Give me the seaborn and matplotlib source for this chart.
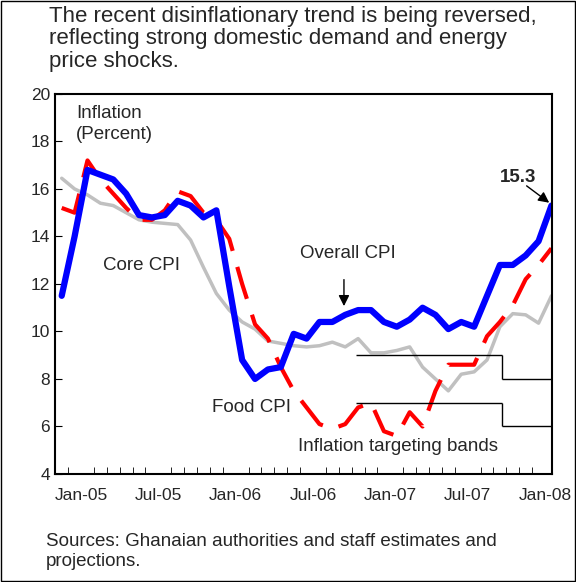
import numpy as np
import pandas as pd
import matplotlib
matplotlib.use("Agg")
import matplotlib.pyplot as plt
import seaborn as sns

sns.set_style("white")
plt.rcParams['font.family'] = ['Liberation Sans', 'DejaVu Sans']

# monthly data Jan-05 .. Mar-08
overall = [11.5, 14.0, 16.8, 16.6, 16.4, 15.8, 14.9, 14.8, 14.9, 15.5, 15.3, 14.8, 15.1,
           11.9, 8.8, 8.0, 8.4, 8.5, 9.9, 9.7, 10.4, 10.4, 10.7, 10.9, 10.9, 10.4,
           10.2, 10.5, 11.0, 10.7, 10.1, 10.4, 10.2, 11.5, 12.8, 12.8, 13.2, 13.8, 15.3]
food = [15.2, 15.0, 17.2, 16.4, 15.8, 15.2, 14.7, 14.7, 15.1, 15.9, 15.7, 15.0, 14.7,
        13.9, 12.0, 10.3, 9.7, 8.5, 7.5, 6.8, 6.1, 5.9, 6.1, 6.8, 7.0, 5.8,
        5.6, 6.6, 6.0, 7.5, 8.6, 8.6, 8.6, 9.8, 10.4, 11.1, 12.2, 12.8, 13.5]
core = [16.45, 16.0, 15.75, 15.4, 15.3, 15.0, 14.7, 14.6, 14.55, 14.5, 13.85, 12.7, 11.6,
        10.9, 10.4, 10.1, 9.6, 9.5, 9.4, 9.35, 9.4, 9.55, 9.35, 9.7, 9.1, 9.1,
        9.2, 9.35, 8.5, 8.0, 7.5, 8.2, 8.3, 8.8, 10.2, 10.75, 10.7, 10.35, 11.5]
months = np.arange(len(overall))
tick_labels = ["Jan-05", "Jul-05", "Jan-06", "Jul-06", "Jan-07", "Jul-07", "Jan-08"]

# inflation targeting bands (upper, lower), start Dec-06, step late 2007
band_x = [22.8, 34.2, 38.05]
upper_band = [9.0, 8.0]
lower_band = [7.0, 6.0]

df = pd.DataFrame({"month": months, "Overall CPI": overall, "Food CPI": food, "Core CPI": core})

fig = plt.figure(figsize=(5.76, 5.82), dpi=100)
ax = fig.add_axes([0.0955, 0.1856, 0.863, 0.653])

sns.lineplot(data=df, x="month", y="Core CPI", ax=ax, color="#c0c0c0", lw=2.5)
sns.lineplot(data=df, x="month", y="Food CPI", ax=ax, color="#ff0000", lw=3).lines[-1].set_dashes([8, 4])
sns.lineplot(data=df, x="month", y="Overall CPI", ax=ax, color="#0000ff", lw=4.5)

for band in (upper_band, lower_band):
    ax.hlines(band[0], band_x[0], band_x[1], color="black", lw=1)
    ax.vlines(band_x[1], band[1], band[0], color="black", lw=1)
    ax.hlines(band[1], band_x[1], band_x[2], color="black", lw=1)

ax.set_xlim(-0.52, 38.05)
ax.set_ylim(4, 20)
ax.set_yticks(range(4, 21, 2))
ax.set_xticks([i * 6 + 1.5 for i in range(7)])
ax.set_xticklabels(tick_labels)
ax.set_xticks(np.arange(0.5, 38, 1), minor=True)
ax.tick_params(axis="x", which="major", length=0, labelsize=12.5, pad=10)
ax.tick_params(axis="x", which="minor", direction="in", length=5, color="black", bottom=True)
ax.tick_params(axis="y", direction="in", length=5, left=True, labelsize=12.5, color="black")
ax.set_xlabel("")
ax.set_ylabel("")
for s in ax.spines.values():
    s.set_color("black")
    s.set_linewidth(1.5)

ax.text(1.1, 18.1, "Inflation\n(Percent)", fontsize=13.5, linespacing=1.3)
ax.text(3.2, 12.6, "Core CPI", fontsize=13.5)
ax.text(18.5, 13.1, "Overall CPI", fontsize=13.5)
ax.annotate("", xy=(21.9, 10.95), xytext=(21.9, 12.3),
            arrowprops=dict(arrowstyle="-|>", color="black", lw=1, mutation_scale=16))
ax.text(11.7, 6.6, "Food CPI", fontsize=13.5)
ax.text(18.3, 4.95, "Inflation targeting bands", fontsize=13.5)
ax.text(34.0, 16.3, "15.3", fontsize=13.5, fontweight="bold")
ax.annotate("", xy=(38.0, 15.35), xytext=(35.9, 16.2),
            arrowprops=dict(arrowstyle="-|>", color="black", lw=1, mutation_scale=16))

fig.text(0.085, 0.99, "The recent disinflationary trend is being reversed,\n"
         "reflecting strong domestic demand and energy\nprice shocks.",
         fontsize=16, va="top", linespacing=1.1)
fig.text(0.08, 0.02, "Sources: Ghanaian authorities and staff estimates and\nprojections.",
         fontsize=13.5, va="bottom", linespacing=1.25)
fig.patches.append(plt.Rectangle((0.002, 0.002), 0.996, 0.996, transform=fig.transFigure,
                                 fill=False, edgecolor="black", lw=1))

fig.savefig("out.png", dpi=100)
